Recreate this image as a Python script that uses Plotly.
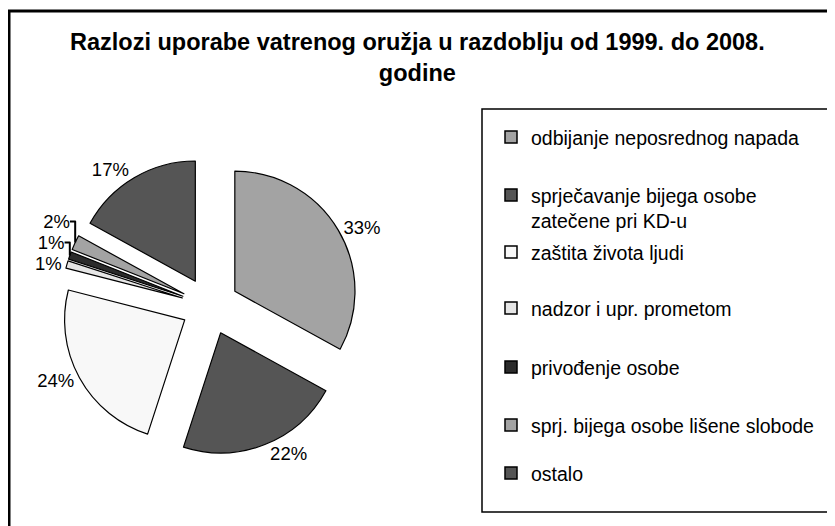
import plotly.graph_objects as go

# ---- data ----
labels = [
    "odbijanje neposrednog napada",
    "sprječavanje bijega osobe<br>zatečene pri KD-u",
    "zaštita života ljudi",
    "nadzor i upr. prometom",
    "privođenje osobe",
    "sprj. bijega osobe lišene slobode",
    "ostalo",
]
values = [33, 22, 24, 1, 1, 2, 17]
colors = ["#a3a3a3", "#555555", "#f8f8f8", "#e6e6e6", "#2b2b2b", "#a3a3a3", "#555555"]
title_lines = ["Razlozi uporabe vatrenog oružja u razdoblju od 1999. do 2008.", "godine"]

# ---- layout helpers (screen pixel -> paper; page body adds an 8 px offset) ----
W, H = 835, 526
OFF = 8
def px(x):
    return (x - OFF) / W
def py(y):
    return 1 - (y - OFF) / H

FONT = "Liberation Sans, Arial, sans-serif"

# pie domain: centre (210, 306), half-size 149 px
cx, cy, half = 210, 306, 149
fig = go.Figure(
    go.Pie(
        labels=labels,
        values=values,
        sort=False,
        direction="clockwise",
        rotation=0,
        pull=[0.24] * len(values),
        marker=dict(colors=colors, line=dict(color="black", width=1.2)),
        texttemplate="%{value}%",
        textposition="outside",
        automargin=False,
        textfont=dict(family=FONT, size=18.5, color="black"),
        showlegend=False,
        domain=dict(x=[px(cx - half), px(cx + half)], y=[py(cy + half), py(cy - half)]),
    )
)

shapes = []
annotations = []

# outer frame
shapes.append(dict(type="rect", xref="paper", yref="paper",
                   x0=px(9), x1=px(850), y0=py(545), y1=py(11),
                   line=dict(color="black", width=3), fillcolor="rgba(0,0,0,0)"))
# legend box
shapes.append(dict(type="rect", xref="paper", yref="paper",
                   x0=px(482), x1=px(828), y0=py(512), y1=py(109),
                   line=dict(color="black", width=1.5), fillcolor="white", layer="below"))

legend_y = [137, 195, 252, 308, 367, 425, 473]
for lab, col, yc in zip(labels, colors, legend_y):
    shapes.append(dict(type="rect", xref="paper", yref="paper",
                       x0=px(505), x1=px(517), y0=py(yc + 6), y1=py(yc - 6),
                       line=dict(color="black", width=1.5), fillcolor=col))
    annotations.append(dict(xref="paper", yref="paper", x=px(529), y=py(yc - 12.5),
                            text=lab, showarrow=False, xanchor="left", yanchor="top",
                            align="left", font=dict(family=FONT, size=19.5, color="black")))

annotations.append(dict(xref="paper", yref="paper", x=px(417), y=py(57.5),
                        text="<br>".join("<b>" + t + "</b>" for t in title_lines),
                        showarrow=False, xanchor="center", yanchor="middle", align="center",
                        font=dict(family=FONT, size=23.5, color="black")))

fig.update_layout(
    width=W, height=H,
    margin=dict(l=0, r=0, t=0, b=0),
    paper_bgcolor="white",
    plot_bgcolor="white",
    shapes=shapes,
    annotations=annotations,
)

fig.write_html("out.html")
